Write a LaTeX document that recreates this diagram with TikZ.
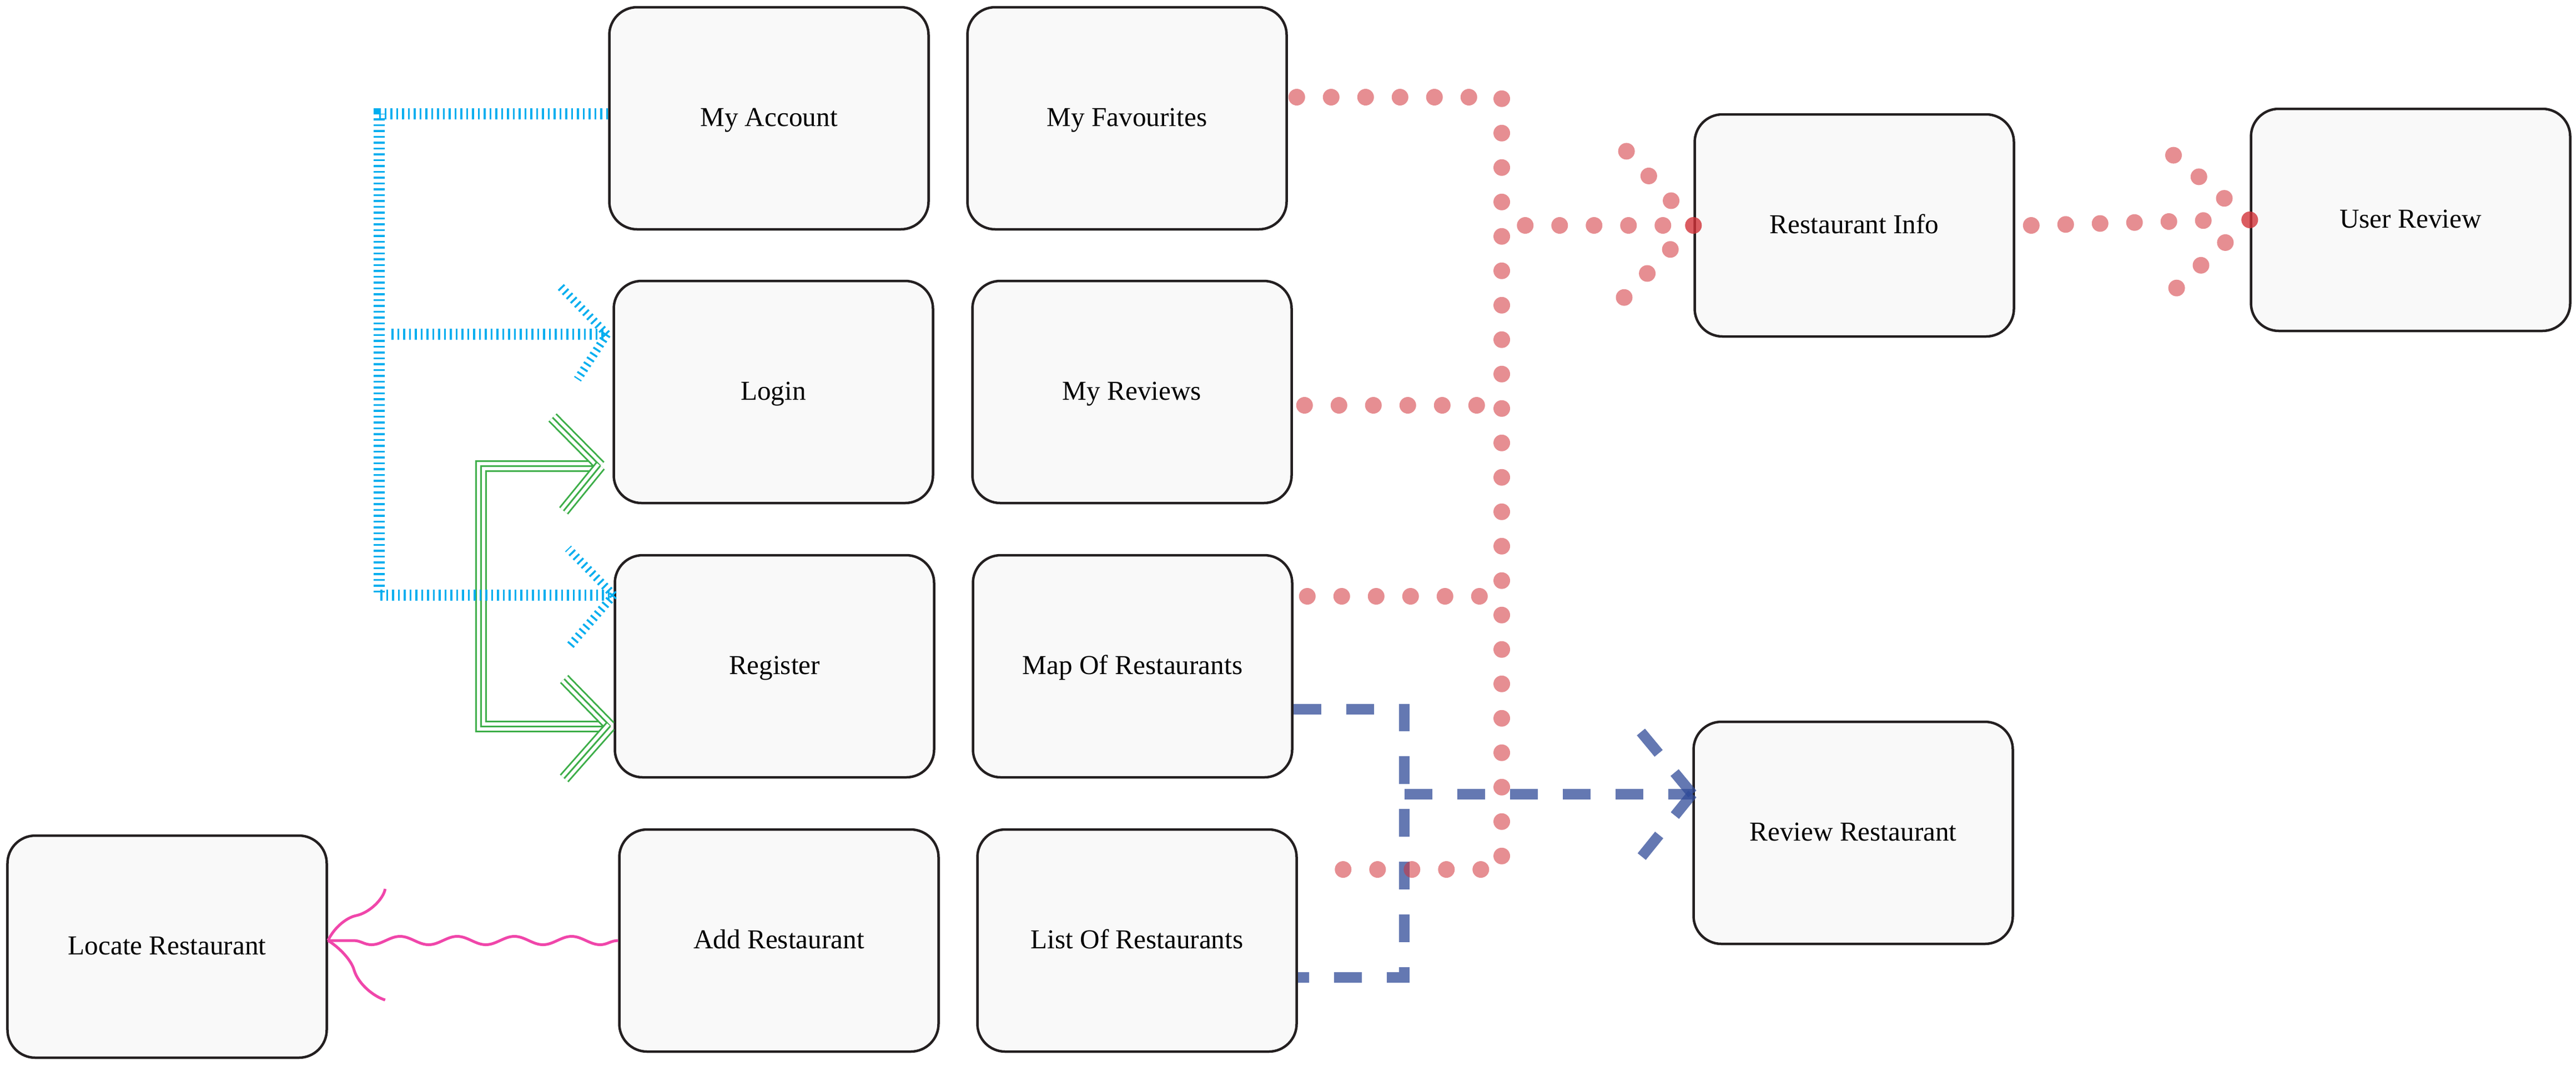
\documentclass[tikz,border=0pt]{standalone}
\usepackage{fontspec}
\setmainfont{Liberation Serif}
\usetikzlibrary{positioning, calc, decorations.pathmorphing}

\definecolor{boxfill}{HTML}{F9F9F9}
\definecolor{boxline}{HTML}{231F20}
\definecolor{hatchblue}{HTML}{00AEEF}
\definecolor{linkgreen}{HTML}{3DAE49}
\definecolor{dotred}{RGB}{210,50,57}
\definecolor{dashblue}{RGB}{48,75,152}
\definecolor{wavepink}{RGB}{240,70,170}

\begin{document}
\begin{tikzpicture}[
    box/.style={draw=boxline, line width=0.045cm, fill=boxfill, rounded corners=0.5cm, minimum width=5.75cm, minimum height=4cm, inner sep=0pt, text height=0.8em, text depth=0pt, font=\fontsize{14}{17}\selectfont},
    hatch/.style={hatchblue, line width=0.2cm, dash pattern=on 0.035cm off 0.07cm},
    hatchtip/.style={hatch, line width=0.15cm},
    triple/.style={linkgreen, line width=0.21cm, postaction={draw=white, line width=0.15cm}, postaction={draw=linkgreen, line width=0.03cm}},
    dots/.style={dotred, opacity=0.55, line width=0.3cm, line cap=round, dash pattern=on 0pt off 0.62cm},
    armdots/.style={dots, dash pattern=on 0pt off 0.6cm},
    dashline/.style={dashblue, opacity=0.75, line width=0.19cm, dash pattern=on 0.5cm off 0.45cm},
    wave/.style={wavepink, line width=0.05cm, decorate, decoration={snake, amplitude=0.075cm, segment length=1.03cm}},
    wavetip/.style={wavepink, line width=0.05cm}
]
    \useasboundingbox (0,0) rectangle (46.4,-19.19);

    % Screens
    \node[box] (acc) at (13.85,-2.13) {My Account};
    \node[box] (fav) at (20.30,-2.13) {My Favourites};
    \node[box] (login) at (13.93,-7.06) {Login};
    \node[box] (reviews) at (20.39,-7.06) {My Reviews};
    \node[box] (register) at (13.95,-12.00) {Register};
    \node[box] (map) at (20.40,-12.00) {Map Of Restaurants};
    \node[box] (add) at (14.03,-16.94) {Add Restaurant};
    \node[box] (list) at (20.48,-16.94) {List Of Restaurants};
    \node[box] (locate) at (3.01,-17.05) {Locate Restaurant};
    \node[box] (info) at (33.40,-4.06) {Restaurant Info};
    \node[box] (user) at (43.42,-3.96) {User Review};
    \node[box] (rreview) at (33.38,-15.00) {Review Restaurant};

    % Login <-> Register
    \coordinate (greenA) at ([xshift=-0.22cm,yshift=-1.33cm]login.west);
    \coordinate (greenB) at ([xshift=-0.06cm,yshift=-1.08cm]register.west);
    \draw[triple] (greenA) -- ++(-2.15,0) |- (greenB);
    \draw[triple] (greenA) -- ++(-0.86,0.87);
    \draw[triple] (greenA) -- ++(-0.66,-0.81);
    \draw[triple] (greenB) -- ++(-0.83,0.85);
    \draw[triple] (greenB) -- ++(-0.83,-0.94);

    % My Account to Login and Register
    \coordinate (logintip) at ([xshift=-0.1cm,yshift=1.04cm]login.west);
    \coordinate (regtip) at ([yshift=1.28cm]register.west);
    \draw[hatch] ([yshift=0.08cm]acc.west) -- ++(-4.12,0) |- (regtip);
    \draw[hatch] ([xshift=-3.88cm]logintip) -- (logintip);
    \draw[hatchtip] (logintip) -- ++(-0.85,0.87);
    \draw[hatchtip] (logintip) -- ++(-0.53,-0.81);
    \draw[hatchtip] (regtip) -- ++(-0.82,0.84);
    \draw[hatchtip] (regtip) -- ++(-0.82,-0.95);

    % Add Restaurant to Locate Restaurant
    \coordinate (wavein) at (add.west -| locate.east);
    \draw[wave] (add.west) -- (wavein);
    \draw[wavetip, shift={(wavein)}] (0,0) .. controls (0.12,0.25) and (0.35,0.42) .. (0.51,0.45) .. controls (0.75,0.5) and (1.0,0.75) .. (1.03,0.93);
    \draw[wavetip, shift={(wavein)}] (0,0) .. controls (0.2,-0.12) and (0.42,-0.35) .. (0.47,-0.53) .. controls (0.55,-0.8) and (0.85,-1.02) .. (1.03,-1.07);

    % Map and List to Review Restaurant
    \coordinate (mapout) at ([yshift=-0.77cm]map.east);
    \coordinate (listout) at ([yshift=-0.66cm]list.east);
    \coordinate (revin) at ([yshift=0.70cm]rreview.west);
    \coordinate (bluejoin) at ([xshift=2.0cm]mapout);
    \draw[dashline] (mapout) -- (bluejoin) |- (listout);
    \draw[dashline] (bluejoin |- revin) -- (revin);
    \draw[dashline] (revin) -- ++(-1.07,1.29);
    \draw[dashline] (revin) -- ++(-0.97,-1.2);

    % Lists to Restaurant Info
    \coordinate (favout) at ([xshift=0.16cm,yshift=0.38cm]fav.east);
    \coordinate (listred) at ([xshift=0.25cm,yshift=1.28cm]list.east);
    \coordinate (redbus) at (27.05,0);
    \draw[dots] (favout) -- (favout -| redbus) -- (listred -| redbus) -- (listred);
    \draw[dots] ([xshift=0.21cm,yshift=-0.24cm]reviews.east) -- ++(3.15,0);
    \draw[dots] ([xshift=0.25cm,yshift=1.26cm]map.east) -- ++(3.15,0);
    \draw[dots] ([xshift=-3.03cm]info.west) -- ([xshift=-0.45cm]info.west);
    \draw[armdots] (info.west) -- ++(-1.21,1.34);
    \draw[armdots] (info.west) -- ++(-1.25,-1.3);

    % Restaurant Info to User Review
    \draw[dots] ([xshift=0.29cm]info.east) -- ([xshift=-0.4cm]user.west);
    \draw[armdots] (user.west) -- ++(-1.38,1.17);
    \draw[armdots] (user.west) -- ++(-1.32,-1.23);

\end{tikzpicture}
\end{document}
